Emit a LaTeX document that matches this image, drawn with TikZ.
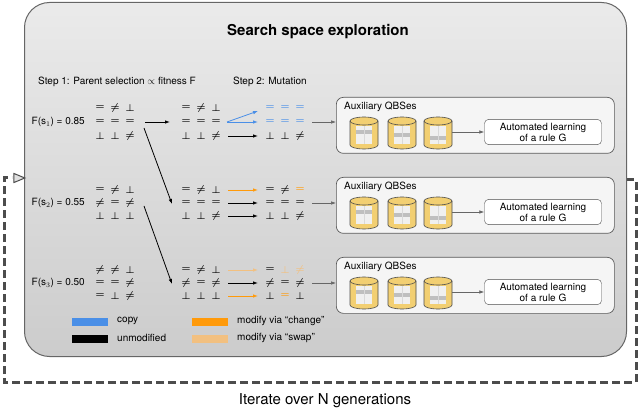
\documentclass[tikz,border=0pt]{standalone}
\usepackage{fontspec}
\setmainfont{TeX Gyre Heros}
\usetikzlibrary{shapes.geometric,arrows.meta}
\definecolor{cblue}{HTML}{4A8FE7}
\definecolor{corange}{HTML}{FF9A0A}
\definecolor{clight}{HTML}{F2C080}
\definecolor{cyl}{HTML}{F2CF72}
\tikzset{
 sym/.style={font=\fontsize{10}{10}\selectfont,inner sep=0pt,anchor=center},
 arr/.style={-{Latex[length=5pt,width=3.5pt]},line width=0.8pt},
 lbl/.style={font=\fontsize{10}{11}\selectfont,inner sep=1pt},
 aux/.style={draw=black!65,rounded corners=7pt,fill=black!4,line width=0.7pt},
 learn/.style={draw=black!70,rounded corners=4pt,fill=white,align=center,font=\fontsize{10}{11}\selectfont,minimum width=117pt,minimum height=24pt},
 bar/.style={line width=8pt},
}
\newcommand\symrow[3]{%
 \foreach \s/\cc [count=\i from 0] in {#3}{\node[sym,text=\cc] at ({#1+15*\i},#2) {$\boldsymbol{\s}$};}}
\newcommand\mycyl[2]{%
 \fill[cyl,draw=black!70,line width=0.6pt] (#1-14,#2-12) -- (#1-14,#2+12) arc[start angle=180,end angle=360,x radius=14,y radius=-4] -- (#1+14,#2-12) arc[start angle=0,end angle=180,x radius=14,y radius=-4] -- cycle;
 \draw[black!70,line width=0.6pt] (#1-14,#2-12) arc[start angle=180,end angle=360,x radius=14,y radius=-4];
}
\usepackage{amsmath,bm}
\begin{document}
\begin{tikzpicture}[x=1pt,y=-1pt]
\useasboundingbox (0,0) rectangle (640,414);
\draw[black!70,line width=3pt,dash pattern=on 8pt off 4pt] (626,180) -- (636,180) -- (636,382) -- (4,382) -- (4,178) -- (12,178);
\node[draw=black!60,line width=1pt,rounded corners=25pt,top color=black!8,bottom color=black!20,minimum width=602pt,minimum height=354pt,anchor=north west] (main) at (24,2) {};
\node[draw=black!70,fill=black!12,line width=1pt,isosceles triangle,minimum size=9pt,inner sep=0pt] (tri) at (17,178) {};
\node[font=\bfseries\fontsize{15}{15}\selectfont] (title) at (318,32) {Search space exploration};
\node[lbl,anchor=west] (st1) at (37,82) {Step 1: Parent selection $\propto$ fitness F};
\node[lbl,anchor=west] (st2) at (232,82) {Step 2: Mutation};
\node[lbl,anchor=east] (f1) at (86,122) {F(s$_1$) = 0.85};
\node[lbl,anchor=east] (f2) at (86,203) {F(s$_2$) = 0.55};
\node[lbl,anchor=east] (f3) at (86,283) {F(s$_3$) = 0.50};
\symrow{100}{108}{=/black,\neq/black,\perp/black}
\symrow{100}{122}{=/black,=/black,=/black}
\symrow{100}{136}{\perp/black,\perp/black,\neq/black}
\symrow{100}{190}{=/black,\neq/black,\perp/black}
\symrow{100}{203}{\neq/black,=/black,\neq/black}
\symrow{100}{216}{\perp/black,\perp/black,\perp/black}
\symrow{100}{270}{\neq/black,\neq/black,\perp/black}
\symrow{100}{283}{=/black,=/black,\neq/black}
\symrow{100}{296}{=/black,\perp/black,\neq/black}
\symrow{186}{108}{=/black,\neq/black,\perp/black}
\symrow{186}{122}{=/black,=/black,=/black}
\symrow{186}{136}{\perp/black,\perp/black,\neq/black}
\symrow{186}{190}{=/black,\neq/black,\perp/black}
\symrow{186}{203}{=/black,=/black,=/black}
\symrow{186}{216}{\perp/black,\perp/black,\neq/black}
\symrow{186}{270}{=/black,\neq/black,\perp/black}
\symrow{186}{283}{\neq/black,=/black,\neq/black}
\symrow{186}{296}{\perp/black,\perp/black,\perp/black}
\symrow{270}{108}{=/cblue,=/cblue,=/cblue}
\symrow{270}{122}{=/cblue,=/cblue,=/cblue}
\symrow{270}{136}{\perp/black,\perp/black,\neq/black}
\symrow{270}{190}{=/black,\neq/black,=/corange}
\symrow{270}{203}{=/black,=/black,=/black}
\symrow{270}{216}{\perp/black,\perp/black,\neq/black}
\symrow{270}{270}{=/black,\perp/clight,\neq/clight}
\symrow{270}{283}{\neq/black,=/black,\neq/black}
\symrow{270}{296}{\perp/black,=/corange,\perp/black}
\foreach \n/\y in {1/122,2/203,3/283}{
 \coordinate (p\n) at (145,\y);
 \coordinate (m\n) at (170,\y);
 \coordinate (o\n) at (312,\y);
 \coordinate (a\n) at (336,\y);}
\coordinate (p1b) at (144,128);
\coordinate (m2) at (172,204);
\coordinate (p2b) at (144,206);
\coordinate (m3) at (172,284);
\draw[arr] (p1) -- (m1);
\draw[arr] (p1b) -- (m2);
\draw[arr] (p2b) -- (m3);
\foreach \y/\cc in {136/black,190/corange,203/black,216/black,270/clight,283/black,296/corange}{
 \draw[arr,draw=\cc] (228,\y) -- (258,\y);}
\coordinate (bs) at (227,122);
\draw[arr,draw=cblue] (bs) -- (258,111);
\draw[arr,draw=cblue] (bs) -- (258,122);
\foreach \n/\t in {1/97,2/177,3/257}{
 \node[aux,minimum width=278pt,minimum height=56pt,anchor=north west] (ax\n) at (336,\t) {};
 \node[lbl,anchor=west] (al\n) at (343,\t+10) {Auxiliary QBSes};
 \foreach \k/\x in {1/364,2/402,3/438}{
  \mycyl{\x}{\t+36}
  \fill[black!6] (\x-8,\t+29) rectangle (\x+8,\t+47);
  \fill[black!25] (\x-8,\t+30+3*\k) rectangle (\x+8,\t+34+3*\k);
  \draw[black!15,line width=0.3pt] (\x,\t+29) -- (\x,\t+47);
 }
 \coordinate (cy\n) at (452,\t+35);
 \node[learn] (lr\n) at (543,\t+35) {Automated learning\\of a rule G};
 \draw[arr,draw=black!60,line width=0.6pt] (cy\n) -- (lr\n);
 \draw[arr,draw=black!60,line width=0.6pt] (o\n) -- (a\n);
}
\draw[bar,cblue] (72,322) -- (108,322); \node[lbl,anchor=west] (lg1) at (116,321) {copy};
\draw[bar,black] (72,339) -- (108,339); \node[lbl,anchor=west] (lg2) at (116,338) {unmodified};
\draw[bar,corange] (192,322) -- (228,322); \node[lbl,anchor=west] (lg3) at (236,321) {modify via “change”};
\draw[bar,clight] (192,339) -- (228,339); \node[lbl,anchor=west] (lg4) at (236,338) {modify via “swap”};
\node[font=\fontsize{15}{15}\selectfont] (iter) at (325,401) {Iterate over N generations};
\end{tikzpicture}
\end{document}
